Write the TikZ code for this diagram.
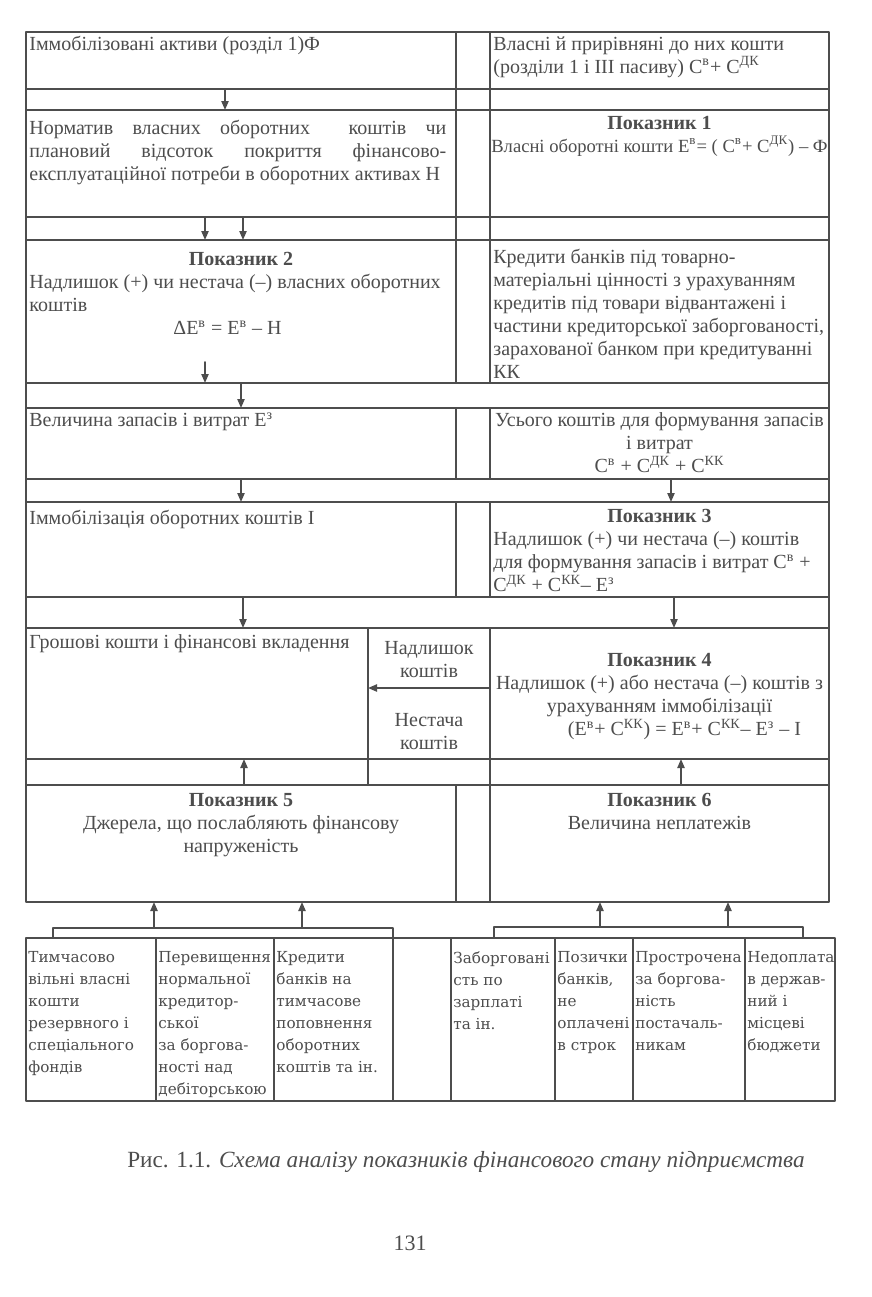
\documentclass[tikz,border=0pt]{standalone}
\usepackage{fontspec}
\setmainfont{Liberation Serif}
\newfontfamily\boxfont{DejaVu Serif}
\usetikzlibrary{arrows.meta,fit,positioning}
\definecolor{ink}{HTML}{4D4D4D}
\newcommand{\supr}[1]{\textsuperscript{#1}}

\begin{document}
\begin{tikzpicture}[
    x=0.5pt, y=-0.5pt, line join=round, line cap=round,
    >={Triangle[length=4.5pt,width=3.6pt]},
    tblcell/.style={draw=ink, line width=0.8pt, inner sep=0pt, outer sep=0pt, fit={#1}},
    txt/.style={text=ink, inner xsep=1.5pt, inner ysep=2pt, align=left, font=\fontsize{10}{11.5}\selectfont},
    bottomtxt/.style={txt, inner xsep=1pt, font=\boxfont\fontsize{7.6}{11}\selectfont},
    arr/.style={->, draw=ink, line width=0.8pt},
    link/.style={draw=ink, line width=0.8pt}
  ]
  \useasboundingbox (0,0) rectangle (872,1297);
  \fill[white] (0,0) rectangle (872,1297);
  \foreach \n/\ya/\yb in {1/32/89, 2/89/110, 3/110/217, 4/217/240, 5/240/383, 7/408/479, 9/502/597}{
    \node[tblcell={(26,\ya) (456,\yb)}] (l\n) {};
    \node[tblcell={(456,\ya) (490,\yb)}] (m\n) {};
    \node[tblcell={(490,\ya) (829,\yb)}] (r\n) {};
  }
  \node[tblcell={(26,383) (829,408)}] (s6) {};
  \node[tblcell={(26,479) (829,502)}] (s8) {};
  \node[tblcell={(26,597) (829,628)}] (s10) {};
  \foreach \n/\ya/\yb in {11/628/759, 12/759/785}{
    \node[tblcell={(26,\ya) (368,\yb)}] (l\n) {};
    \node[tblcell={(368,\ya) (490,\yb)}] (m\n) {};
    \node[tblcell={(490,\ya) (829,\yb)}] (r\n) {};
  }
  \node[tblcell={(26,785) (456,902)}] (l13) {};
  \node[tblcell={(456,785) (490,902)}] (m13) {};
  \node[tblcell={(490,785) (829,902)}] (r13) {};
  \foreach \n/\xa/\xb in {1/26/156, 2/156/274, 3/274/393, 4/393/451, 5/451/555, 6/555/633, 7/633/745, 8/745/835}{
    \node[tblcell={(\xa,938) (\xb,1101)}] (b\n) {};
  }

  \node[txt, anchor=north west] (tl1) at (l1.north west) {Іммобілізовані активи (розділ 1)Ф};
  \node[txt, anchor=north west] (tr1) at (r1.north west) {Власні й прирівняні до них кошти\\(розділи 1 і III пасиву) С\supr{в}+ С\supr{ДК}};
  \node[txt, anchor=north west, text width=208.5pt, align=justify] (tl3) at ([shift={(0,6)}]l3.north west) {Норматив власних оборотних \ коштів чи\linebreak плановий відсоток покриття фінансово-\linebreak експлуатаційної потреби в оборотних активах Н};
  \node[txt, anchor=north, align=center] (tr3) at ([shift={(0,2)}]r3.north) {\textbf{Показник 1}\\{\fontsize{9.3}{11.5}\selectfont Власні оборотні кошти Е\supr{в}= ( С\supr{в}+ С\supr{ДК}) – Ф}};
  \node[txt, anchor=north, font=\fontsize{10}{11.5}\selectfont\bfseries] (hl5) at ([shift={(0,8)}]l5.north) {Показник 2};
  \node[txt, anchor=north west] (tl5) at (l5.west |- hl5.south) {Надлишок (+) чи нестача (–) власних оборотних\\коштів\\\hspace*{72pt}ΔЕ\supr{в} = Е\supr{в} – Н};
  \node[txt, anchor=north west] (tr5) at ([shift={(0,5)}]r5.north west) {Кредити банків під товарно-\\матеріальні цінності з урахуванням\\кредитів під товари відвантажені і\\частини кредиторської заборгованості,\\зарахованої банком при кредитуванні\\КК};
  \node[txt, anchor=north west] (tl7) at (l7.north west) {Величина запасів і витрат Е\supr{з}};
  \node[txt, anchor=north, align=center] (tr7) at (r7.north) {Усього коштів для формування запасів\\і витрат\\С\supr{в} + С\supr{ДК} + С\supr{КК}};
  \node[txt, anchor=north west] (tl9) at ([shift={(0,4)}]l9.north west) {Іммобілізація оборотних коштів І};
  \node[txt, anchor=north, font=\fontsize{10}{11.5}\selectfont\bfseries] (hr9) at ([shift={(0,3)}]r9.north) {Показник 3};
  \node[txt, anchor=north west] (tr9) at (r9.west |- hr9.south) {Надлишок (+) чи нестача (–) коштів\\для формування запасів і витрат С\supr{в} +\\С\supr{ДК} + С\supr{КК}– Е\supr{з}};
  \node[txt, anchor=north west] (tl11) at ([shift={(0,2)}]l11.north west) {Грошові кошти і фінансові вкладення};
  \node[txt, anchor=north, align=center] (tm11a) at ([shift={(0,9)}]m11.north) {Надлишок\\коштів};
  \node[txt, anchor=south, align=center] (tm11b) at ([shift={(0,-5)}]m11.south) {Нестача\\коштів};
  \node[txt, anchor=north, align=center] (tr11) at ([shift={(0,21)}]r11.north) {\textbf{Показник 4}\\Надлишок (+) або нестача (–) коштів з\\урахуванням іммобілізації\\\hspace*{25pt}(Е\supr{в}+ С\supr{КК}) = Е\supr{в}+ С\supr{КК}– Е\supr{з} – І};
  \node[txt, anchor=north, align=center] (tl13) at ([shift={(0,4)}]l13.north) {\textbf{Показник 5}\\Джерела, що послабляють фінансову\\напруженість};
  \node[txt, anchor=north, align=center] (tr13) at ([shift={(0,4)}]r13.north) {\textbf{Показник 6}\\Величина неплатежів};

  \node[bottomtxt, anchor=north west] (tb1) at ([shift={(0,9)}]b1.north west) {Тимчасово\\вільні власні\\кошти\\резервного і\\спеціального\\фондів};
  \node[bottomtxt, anchor=north west] (tb2) at ([shift={(0,9)}]b2.north west) {Перевищення\\нормальної\\кредитор-\\ської\\за боргова-\\ності над\\дебіторською};
  \node[bottomtxt, anchor=north west] (tb3) at ([shift={(0,9)}]b3.north west) {Кредити\\банків на\\тимчасове\\поповнення\\оборотних\\коштів та ін.};
  \node[bottomtxt, anchor=north west] (tb5) at ([shift={(0,9)}]b5.north west) {Заборговані\\сть по\\зарплаті\\та ін.};
  \node[bottomtxt, anchor=north west] (tb6) at ([shift={(0,9)}]b6.north west) {Позички\\банків,\\не\\оплачені\\в строк};
  \node[bottomtxt, anchor=north west] (tb7) at ([shift={(0,9)}]b7.north west) {Прострочена\\за боргова-\\ність\\постачаль-\\никам};
  \node[bottomtxt, anchor=north west] (tb8) at ([shift={(0,9)}]b8.north west) {Недоплата\\в держав-\\ний і\\місцеві\\бюджети};

  \draw[arr] (l1.south -| 225,0) -- (l3.north -| 225,0);
  \draw[arr] (l3.south -| 205,0) -- (l5.north -| 205,0);
  \draw[arr] (l3.south -| 243,0) -- (l5.north -| 243,0);
  \coordinate (d5) at (205,362);
  \draw[arr] (d5) -- (l5.south -| d5);
  \draw[arr] (l5.south -| 241,0) -- (l7.north -| 241,0);
  \draw[arr] (l7.south -| 241,0) -- (l9.north -| 241,0);
  \draw[arr] (r7.south -| 671,0) -- (r9.north -| 671,0);
  \draw[arr] (l9.south -| 243,0) -- (l11.north -| 243,0);
  \draw[arr] (r9.south -| 674,0) -- (r11.north -| 674,0);
  \draw[arr] (r11.west |- 0,688) -- (l11.east |- 0,688);
  \draw[arr] (l13.north -| 244,0) -- (l11.south -| 244,0);
  \draw[arr] (r13.north -| 681,0) -- (r11.south -| 681,0);

  \coordinate (la) at (154,928);
  \coordinate (lb) at (302,928);
  \coordinate (ra) at (600,927);
  \coordinate (rb) at (728,927);
  \draw[link] (b1.north -| 53,0) |- (la) -| (b3.north east);
  \draw[link] (b5.north -| 494,0) |- (ra) -| (b8.north -| 803,0);
  \draw[arr] (la) -- (l13.south -| la);
  \draw[arr] (lb) -- (l13.south -| lb);
  \draw[arr] (ra) -- (r13.south -| ra);
  \draw[arr] (rb) -- (r13.south -| rb);

  \node[text=ink, font=\fontsize{11.6}{14}\selectfont] (cap) at (466,1162) {Рис. 1.1. \textit{Схема аналізу показників фінансового стану підприємства}};
  \node[text=ink, font=\fontsize{11}{13}\selectfont] (pg) at (410,1243) {131};
\end{tikzpicture}
\end{document}
